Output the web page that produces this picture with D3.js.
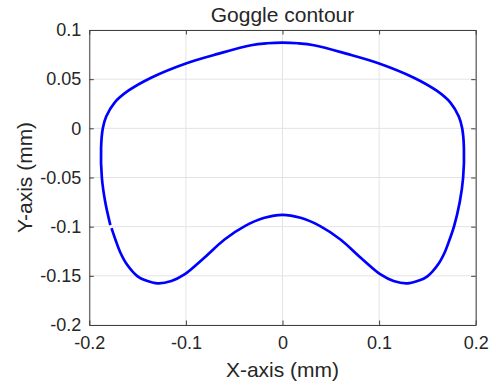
<!DOCTYPE html>
<html>
<head>
<meta charset="utf-8">
<script src="https://cdn.jsdelivr.net/npm/d3@7/dist/d3.min.js"></script>
<style>
html,body{margin:0;padding:0;background:#fff;}
svg{display:block;}
text{font-family:"Liberation Sans",Arial,Helvetica,sans-serif;fill:#262626;}
</style>
</head>
<body>
<svg id="chart" width="496" height="388"></svg>
<script>
const title = "Goggle contour";
const xLabel = "X-axis (mm)";
const yLabel = "Y-axis (mm)";
const xTicks = [-0.2, -0.1, 0, 0.1, 0.2];
const xTickLabels = ["-0.2", "-0.1", "0", "0.1", "0.2"];
const yTicks = [0.1, 0.05, 0, -0.05, -0.1, -0.15, -0.2];
const yTickLabels = ["0.1", "0.05", "0", "-0.05", "-0.1", "-0.15", "-0.2"];

const contourX = [
 -0.1770, -0.1730, -0.1680, -0.1610, -0.1500, -0.1420, -0.1290, -0.1150, -0.1015, -0.0810,
 -0.0600, -0.0390, -0.0187, 0.0000, 0.0187, 0.0390, 0.0600, 0.0810, 0.1015, 0.1150,
 0.1290, 0.1420, 0.1500, 0.1610, 0.1680, 0.1730, 0.1775, 0.1835, 0.1870, 0.1878,
 0.1860, 0.1825, 0.1740, 0.1600, 0.1360, 0.1000, 0.0670, 0.0325, 0.0160, 0.0000,
 -0.0160, -0.0325, -0.0670, -0.1000, -0.1360, -0.1600, -0.1740, -0.1825, -0.1860, -0.1878,
 -0.1870, -0.1835, -0.1782
];
const contourY = [
 -0.1015, -0.1130, -0.1260, -0.1385, -0.1505, -0.1545, -0.1577, -0.1553, -0.1486, -0.1316,
 -0.1130, -0.0994, -0.0910, -0.0880, -0.0910, -0.0994, -0.1130, -0.1316, -0.1486, -0.1553,
 -0.1577, -0.1545, -0.1505, -0.1385, -0.1260, -0.1130, -0.1000, -0.0750, -0.0500, -0.0200,
 0.0000, 0.0120, 0.0260, 0.0380, 0.0515, 0.0660, 0.0757, 0.0845, 0.0865, 0.0872,
 0.0865, 0.0845, 0.0757, 0.0660, 0.0515, 0.0380, 0.0260, 0.0120, 0.0000, -0.0200,
 -0.0500, -0.0750, -0.0985
];

const svg = d3.select("#chart");
const L = 89.3, R = 475.7, T = 30, B = 325;
const x = d3.scaleLinear().domain([-0.2, 0.2]).range([L, R]);
const y = d3.scaleLinear().domain([-0.2, 0.1]).range([B, T]);

// grid
const grid = svg.append("g");
xTicks.forEach(t => grid.append("line").attr("x1", x(t)).attr("x2", x(t)).attr("y1", T).attr("y2", B)
  .attr("stroke", "#e3e3e3").attr("stroke-width", 1));
yTicks.forEach(t => grid.append("line").attr("x1", L).attr("x2", R).attr("y1", y(t)).attr("y2", y(t))
  .attr("stroke", "#e3e3e3").attr("stroke-width", 1));

// contour line
const pts = contourX.map((v, i) => [v, contourY[i]]);
const line = d3.line().x(d => x(d[0])).y(d => y(d[1])).curve(d3.curveCatmullRom.alpha(0.5));
svg.append("path").attr("d", line(pts)).attr("fill", "none").attr("stroke", "#0000ff")
  .attr("stroke-width", 2.7).attr("stroke-linejoin", "round");

// axes (box with inward ticks)
const tickLen = 4.5;
const axB = svg.append("g").attr("transform", `translate(0,${B})`)
  .call(d3.axisBottom(x).tickValues(xTicks).tickFormat((d, i) => xTickLabels[i]).tickSizeInner(-tickLen).tickSizeOuter(0).tickPadding(10));
const axT = svg.append("g").attr("transform", `translate(0,${T})`)
  .call(d3.axisTop(x).tickValues(xTicks).tickFormat("").tickSizeInner(-tickLen).tickSizeOuter(0));
const axL = svg.append("g").attr("transform", `translate(${L},0)`)
  .call(d3.axisLeft(y).tickValues(yTicks).tickFormat((d, i) => yTickLabels[i]).tickSizeInner(-tickLen).tickSizeOuter(0).tickPadding(8));
const axR = svg.append("g").attr("transform", `translate(${R},0)`)
  .call(d3.axisRight(y).tickValues(yTicks).tickFormat("").tickSizeInner(-tickLen).tickSizeOuter(0));
[axB, axT, axL, axR].forEach(a => {
  a.selectAll("path.domain").attr("stroke", "#404040").attr("stroke-width", 1);
  a.selectAll(".tick line").attr("stroke", "#404040").attr("stroke-width", 1);
  a.selectAll("text").attr("font-size", 18).attr("fill", "#262626")
    .attr("font-family", '"Liberation Sans",Arial,Helvetica,sans-serif');
});
axB.selectAll("text").attr("dy", null).attr("y", 24).attr("dominant-baseline", "alphabetic");

// labels
svg.append("text").attr("x", (L + R) / 2).attr("y", 22).attr("text-anchor", "middle")
  .attr("font-size", 21).text(title);
svg.append("text").attr("x", (L + R) / 2).attr("y", 377).attr("text-anchor", "middle")
  .attr("font-size", 21).text(xLabel);
svg.append("text").attr("transform", `translate(31.5,${(T + B) / 2}) rotate(-90)`).attr("text-anchor", "middle")
  .attr("font-size", 21).text(yLabel);
</script>
</body>
</html>
